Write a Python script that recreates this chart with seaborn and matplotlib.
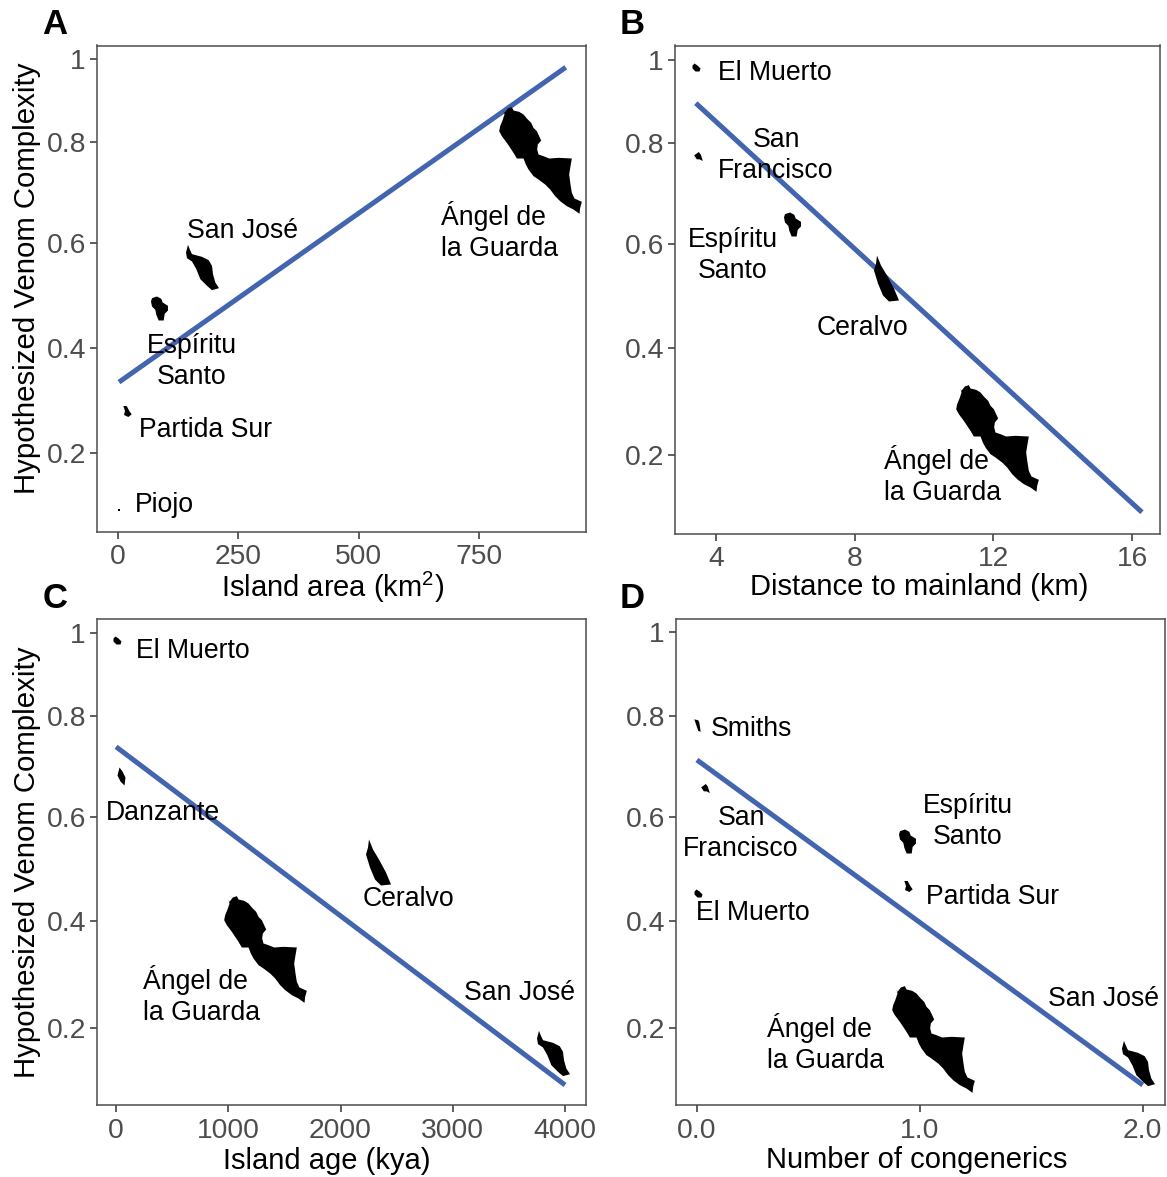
import numpy as np
import matplotlib
matplotlib.use("Agg")
import matplotlib.pyplot as plt
from matplotlib.path import Path
import seaborn as sns

W, H = 1167, 1177

# valeurs
y_ticks = [0.2, 0.4, 0.6, 0.8, 1]
y_labels = ["0.2", "0.4", "0.6", "0.8", "1"]

area_names = ["Ángel", "San José", "Espíritu", "Partida Sur", "Piojo"]
area_x = [877, 174, 85, 19, 2]
area_y = [0.765, 0.555, 0.476, 0.28, 0.091]
area_fit_x = [2, 931]
area_fit_y = [0.335, 0.98]

dist_names = ["El Muerto", "San Francisco", "Espíritu", "Ceralvo", "Ángel"]
dist_x = [3.42, 3.48, 6.19, 8.91, 12.10]
dist_y = [0.983, 0.774, 0.64, 0.535, 0.232]
dist_fit_x = [3.42, 16.28]
dist_fit_y = [0.896, 0.093]

age_names = ["El Muerto", "Danzante", "Ceralvo", "Ángel", "San José"]
age_x = [9, 45, 2337, 1327, 3891]
age_y = [0.983, 0.681, 0.514, 0.348, 0.154]
age_fit_x = [0, 4000]
age_fit_y = [0.739, 0.0935]

cong_names = ["Smiths", "San Francisco", "El Muerto", "Espíritu", "Partida Sur", "Ángel", "San José"]
cong_x = [0.0, 0.036, 0.004, 0.944, 0.946, 1.06, 1.98]
cong_y = [0.782, 0.657, 0.454, 0.554, 0.467, 0.179, 0.135]
cong_fit_x = [0, 2]
cong_fit_y = [0.713, 0.0935]

# contours des iles, en pixels x3 (zoom de la figure)
outlines = {
    "Ángel": [(215, 88), (218, 95), (228, 82), (240, 78), (245, 88), (262, 92), (275, 100), (285, 112),
              (298, 125), (305, 140), (315, 150), (322, 165), (328, 178), (318, 190), (316, 205),
              (320, 220), (335, 225), (352, 232), (380, 230), (420, 232), (416, 255), (412, 280),
              (416, 310), (420, 335), (428, 352), (450, 362), (445, 380), (443, 398), (425, 385),
              (405, 375), (385, 360), (370, 345), (355, 325), (340, 310), (320, 295), (305, 285),
              (290, 265), (282, 250), (275, 232), (255, 232), (245, 215), (235, 200), (225, 185),
              (210, 165), (202, 150), (205, 135), (212, 118), (218, 100)],
    "San José": [(733, 182), (738, 195), (745, 210), (775, 218), (795, 228), (805, 245), (808, 270),
                 (815, 295), (826, 312), (805, 318), (790, 305), (770, 285), (758, 255), (745, 232),
                 (730, 222), (727, 205)],
    "Espíritu": [(690, 395), (705, 390), (718, 397), (722, 408), (738, 418), (738, 432), (728, 442),
                 (725, 462), (710, 462), (703, 445), (700, 430), (690, 420), (687, 405)],
    "Ceralvo": [(9, 0), (21, 30), (39, 60), (60, 99), (75, 135), (45, 138), (27, 120), (12, 84),
                (0, 45), (6, 24)],
    "El Muerto": [(6, 0), (15, 6), (24, 15), (21, 24), (9, 24), (0, 15), (0, 6)],
    "San Francisco": [(0, 10), (14, 0), (20, 8), (26, 27), (16, 22), (8, 22)],
    "Partida Sur": [(0, 0), (10, 0), (18, 15), (25, 25), (15, 33), (2, 27), (5, 15)],
    "Smiths": [(0, 0), (12, 3), (15, 10), (19, 37), (12, 35), (5, 15)],
    "Danzante": [(6, 0), (15, 12), (24, 30), (21, 54), (9, 42), (0, 24), (3, 12)],
    "Piojo": [(0, 0), (6, 0), (6, 6), (0, 6)],
}

sns.set_theme(style="white")
plt.rcParams["font.family"] = ["Liberation Sans", "DejaVu Sans"]
plt.rcParams["mathtext.default"] = "regular"

BLUE = "#4364AE"
GREY = "#4D4D4D"


# position de l'axe en pixels
def make_axes(fig, left, right, top, bottom):
    return fig.add_axes([left / W, 1 - bottom / H, (right - left) / W, (bottom - top) / H])


def draw_island(ax, name, x, y):
    pts = np.array(outlines[name], dtype=float) / 3
    mid = (pts.max(axis=0) + pts.min(axis=0)) / 2
    pts = (pts - mid) * [1, -1]
    size = (1.44 * np.abs(pts).max()) ** 2
    sns.scatterplot(x=[x], y=[y], marker=Path(pts, closed=False), s=size, color="black",
                    linewidth=0, ax=ax, legend=False, zorder=3)


def panel(fig, box, tick_px, xlim, xticks, xticklabels, names, xs, ys, fit_x, fit_y, ylabel, xlabel):
    left, right, top, bottom = box
    ax = make_axes(fig, left, right, top, bottom)

    # l'echelle y de l'article n'est pas reguliere : on suit les graduations
    vals = [-1.0] + y_ticks + [2.0]
    step0 = (tick_px[0] - tick_px[1]) / 0.2
    step1 = (tick_px[3] - tick_px[4]) / 0.2
    px = [tick_px[0] + step0 * 1.2] + list(tick_px) + [tick_px[4] - step1 * 1.0]
    pos = [-p for p in px]
    forward = lambda v: np.interp(v, vals, pos)
    inverse = lambda p: np.interp(p, pos, vals)
    ax.set_yscale("function", functions=(forward, inverse))

    sns.lineplot(x=fit_x, y=fit_y, color=BLUE, linewidth=3.6, ax=ax, errorbar=None, zorder=2,
                 solid_capstyle="butt")
    for name, x, y in zip(names, xs, ys):
        draw_island(ax, name, x, y)

    ax.set_xlim(xlim)
    ax.set_ylim(inverse(-bottom), inverse(-top))
    ax.set_yticks(y_ticks)
    ax.set_yticklabels(y_labels)
    ax.set_xticks(xticks)
    ax.set_xticklabels(xticklabels)
    ax.minorticks_off()
    ax.tick_params(axis="both", length=5, width=1.1, color="#333333", labelcolor=GREY,
                   labelsize=20.3, left=True, bottom=True)
    ax.tick_params(axis="x", pad=4)
    ax.tick_params(axis="y", pad=3)
    for s in ax.spines.values():
        s.set_color(GREY)
        s.set_linewidth(1.1)
    ax.set_xlabel("")
    ax.set_ylabel("")
    if xlabel:
        fig.text(xlabel[1] / W, 1 - (xlabel[2] + 2) / H, xlabel[0], ha="center", va="center",
                 fontsize=21, color="black")
    if ylabel:
        fig.text((ylabel[1] + 2) / W, 1 - ylabel[2] / H, ylabel[0], ha="center", va="center",
                 rotation=90, fontsize=21.2, color="black")
    return ax


def label(fig, txt, x, y, ha="center"):
    fig.text(x / W, 1 - (y + 1.5) / H, txt, ha=ha, va="center", ma=ha, fontsize=19.2, color="black",
             linespacing=1.28)


fig = plt.figure(figsize=(W / 100, H / 100), dpi=100)
YNAME = "Hypothesized Venom Complexity"

panel(fig, (97, 586, 45.5, 532), [453, 348, 243, 142, 59], (-43.7, 973),
      [0, 250, 500, 750], ["0", "250", "500", "750"],
      area_names, area_x, area_y, area_fit_x, area_fit_y,
      (YNAME, 25, 278), ("Island area (km$^2$)", 333, 585))
panel(fig, (675, 1160, 45.5, 534), [455, 348, 244, 143, 60], (2.82, 16.8),
      [4, 8, 12, 16], ["4", "8", "12", "16"],
      dist_names, dist_x, dist_y, dist_fit_x, dist_fit_y,
      None, ("Distance to mainland (km)", 919, 585))
panel(fig, (97, 586, 619, 1105), [1028, 921, 817, 716, 633], (-170, 4187),
      [0, 1000, 2000, 3000, 4000], ["0", "1000", "2000", "3000", "4000"],
      age_names, age_x, age_y, age_fit_x, age_fit_y,
      (YNAME, 25, 862), ("Island age (kya)", 327, 1159))
panel(fig, (676, 1165, 619, 1105), [1028, 921, 817, 716, 632], (-0.094, 2.1),
      [0, 1, 2], ["0.0", "1.0", "2.0"],
      cong_names, cong_x, cong_y, cong_fit_x, cong_fit_y,
      None, ("Number of congenerics", 917, 1158))

# etiquettes des iles
label(fig, "San José", 242, 229)
label(fig, "Ángel de\nla Guarda", 441, 230, ha="left")
label(fig, "Espíritu\nSanto", 192, 360)
label(fig, "Partida Sur", 206, 428)
label(fig, "Piojo", 164, 504)

label(fig, "El Muerto", 775, 71)
label(fig, "San\nFrancisco", 776, 154)
label(fig, "Espíritu\nSanto", 733, 254)
label(fig, "Ceralvo", 862, 326)
label(fig, "Ángel de\nla Guarda", 884, 474, ha="left")

label(fig, "El Muerto", 193, 649)
label(fig, "Danzante", 163, 811)
label(fig, "Ceralvo", 408, 898)
label(fig, "Ángel de\nla Guarda", 143, 994, ha="left")
label(fig, "San José", 519, 991)

label(fig, "Smiths", 751, 727)
label(fig, "San\nFrancisco", 741, 832)
label(fig, "El Muerto", 753, 911)
label(fig, "Espíritu\nSanto", 968, 820)
label(fig, "Partida Sur", 993, 895)
label(fig, "Ángel de\nla Guarda", 767, 1042, ha="left")
label(fig, "San José", 1103, 998)

for letter, x, y in [("A", 55, 24), ("B", 632, 24), ("C", 55, 598), ("D", 632, 598)]:
    fig.text(x / W, 1 - y / H, letter, ha="center", va="center", fontsize=25,
             fontweight="bold", color="black")

fig.savefig("out.png", dpi=100)
